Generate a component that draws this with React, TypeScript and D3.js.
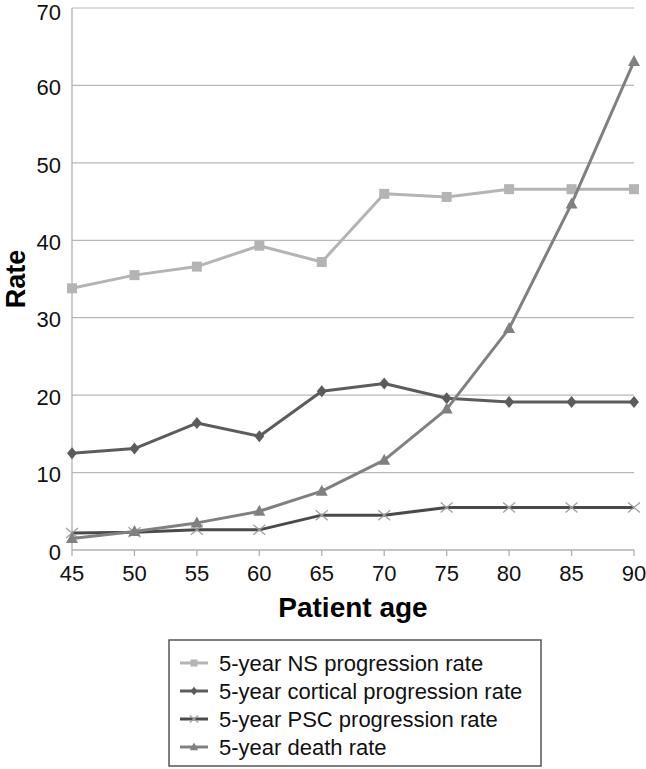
import React from "react";
import * as d3 from "d3";

const ages = [45, 50, 55, 60, 65, 70, 75, 80, 85, 90];
const nsRate = [33.8, 35.5, 36.6, 39.3, 37.2, 46.0, 45.6, 46.6, 46.6, 46.6];
const corticalRate = [12.5, 13.1, 16.4, 14.7, 20.5, 21.5, 19.6, 19.1, 19.1, 19.1];
const pscRate = [2.2, 2.3, 2.6, 2.6, 4.5, 4.5, 5.5, 5.5, 5.5, 5.5];
const deathRate = [1.5, 2.4, 3.5, 5.0, 7.6, 11.6, 18.2, 28.6, 44.7, 63.1];
const yTicks = [0, 10, 20, 30, 40, 50, 60, 70];
const seriesNames = [
  "5-year NS progression rate",
  "5-year cortical progression rate",
  "5-year PSC progression rate",
  "5-year death rate",
];

const W = 646;
const H = 769;
const font = "Liberation Sans, Arial, sans-serif";

type Marker = "square" | "diamond" | "x" | "triangle";
const seriesStyle: { color: string; markerColor: string; marker: Marker }[] = [
  { color: "#b4b4b4", markerColor: "#b4b4b4", marker: "square" },
  { color: "#5c5c5c", markerColor: "#5c5c5c", marker: "diamond" },
  { color: "#4a4a4a", markerColor: "#a0a0a0", marker: "x" },
  { color: "#808080", markerColor: "#808080", marker: "triangle" },
];

function MarkerShape({ type, x, y, color, s = 1 }: { type: Marker; x: number; y: number; color: string; s?: number }) {
  if (type === "square") return <rect x={x - 5 * s} y={y - 5 * s} width={10 * s} height={10 * s} fill={color} />;
  if (type === "diamond")
    return <path d={`M${x},${y - 6 * s}L${x + 5 * s},${y}L${x},${y + 6 * s}L${x - 5 * s},${y}Z`} fill={color} />;
  if (type === "triangle")
    return <path d={`M${x},${y - 6.5 * s}L${x + 6 * s},${y + 4.5 * s}L${x - 6 * s},${y + 4.5 * s}Z`} fill={color} />;
  return (
    <path
      d={`M${x - 6 * s},${y - 5 * s}L${x + 6 * s},${y + 5 * s}M${x + 6 * s},${y - 5 * s}L${x - 6 * s},${y + 5 * s}`}
      stroke={color}
      strokeWidth={1.3}
      fill="none"
    />
  );
}

export default function App() {
  const x = d3.scaleLinear().domain([45, 90]).range([72, 634]);
  const y = d3.scaleLinear().domain([0, 70]).range([550, 8]);
  const data = [nsRate, corticalRate, pscRate, deathRate];
  const line = d3
    .line<number>()
    .x((_, i) => x(ages[i]))
    .y((d) => y(d));

  return (
    <svg width={W} height={H} style={{ position: "absolute", left: 0, top: 0, background: "#fff" }}>
      {yTicks.map((t) => (
        <g key={t}>
          {t > 0 && <line x1={x(45)} x2={x(90)} y1={y(t)} y2={y(t)} stroke="#b8b8b8" strokeWidth={1.2} />}
          <text
            x={61}
            y={t === 70 ? y(t) + 2 : y(t)}
            dy="0.44em"
            textAnchor="end"
            fontFamily={font}
            fontSize={22}
            fill="#111"
          >
            {t}
          </text>
        </g>
      ))}
      <line x1={x(45)} x2={x(45)} y1={y(70)} y2={y(0)} stroke="#b0b0b0" strokeWidth={1.3} />
      <line x1={x(45)} x2={x(90)} y1={y(0)} y2={y(0)} stroke="#b0b0b0" strokeWidth={1.3} />
      {ages.map((a) => (
        <g key={a}>
          <line x1={x(a)} x2={x(a)} y1={y(0)} y2={y(0) + 6} stroke="#b0b0b0" strokeWidth={1.3} />
          <text x={x(a)} y={581} textAnchor="middle" fontFamily={font} fontSize={22} fill="#111">
            {a}
          </text>
        </g>
      ))}
      <text x={353} y={617} textAnchor="middle" fontFamily={font} fontSize={28} fontWeight="bold" fill="#000">
        Patient age
      </text>
      <text
        transform={`translate(25,${y(35)}) rotate(-90)`}
        textAnchor="middle"
        fontFamily={font}
        fontSize={27}
        fontWeight="bold"
        fill="#000"
      >
        Rate
      </text>
      {data.map((d, si) => (
        <g key={si}>
          <path d={line(d) || ""} fill="none" stroke={seriesStyle[si].color} strokeWidth={3} strokeLinejoin="round" />
          {d.map((v, i) => (
            <MarkerShape key={i} type={seriesStyle[si].marker} x={x(ages[i])} y={y(v)} color={seriesStyle[si].markerColor} />
          ))}
        </g>
      ))}
      <rect x={169} y={640} width={372} height={126} fill="#fff" stroke="#555" strokeWidth={1.5} />
      {seriesNames.map((n, i) => {
        const ly = 663 + i * 28;
        return (
          <g key={n}>
            <line x1={180} x2={208} y1={ly} y2={ly} stroke={seriesStyle[i].color} strokeWidth={3} />
            <MarkerShape type={seriesStyle[i].marker} x={194} y={ly} color={seriesStyle[i].markerColor} s={0.7} />
            <text x={219} y={ly} dy="0.36em" fontFamily={font} fontSize={22} fill="#111">
              {n}
            </text>
          </g>
        );
      })}
    </svg>
  );
}
